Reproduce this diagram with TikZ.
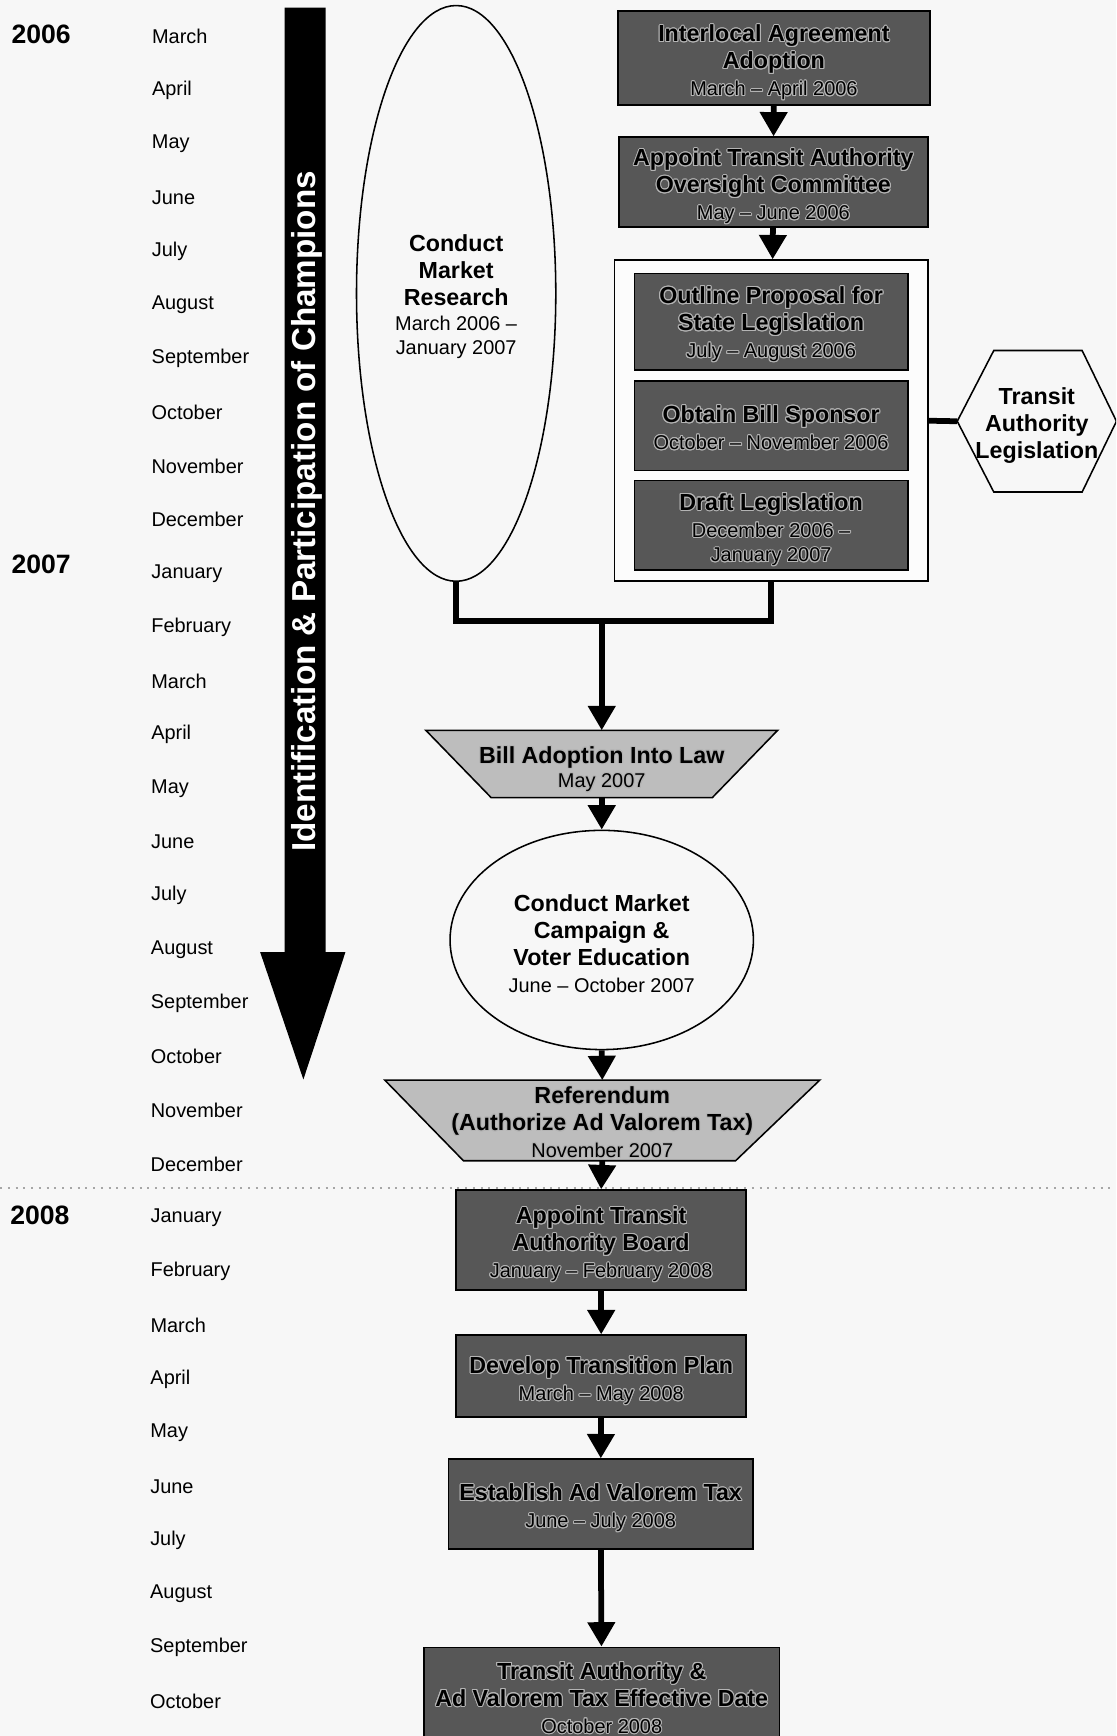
\documentclass[tikz,border=0pt]{standalone}
\usepackage{fontspec}
\setmainfont{Liberation Sans}
\usepackage{contour}
\contourlength{0.45pt}
\usetikzlibrary{arrows.meta,shapes.geometric}
\definecolor{bg}{HTML}{F7F7F7}
\definecolor{boxgray}{HTML}{575757}
\definecolor{trapgray}{HTML}{BDBDBD}
\definecolor{halo}{HTML}{B4B4B4}
\pgfdeclarelayer{back}
\pgfsetlayers{back,main}
\newcommand{\tb}[1]{\contour{halo}{\fontsize{10.5}{12.2}\selectfont\bfseries #1}}
\newcommand{\td}[1]{\contour{halo}{#1}}
\newcommand{\bb}[1]{{\fontsize{10.5}{12.2}\selectfont\bfseries #1}}
\newcommand{\lift}[1]{\rule{0pt}{#1}}
\tikzset{
  month/.style={anchor=west, inner sep=0pt, font=\fontsize{9}{11}\selectfont},
  yearlab/.style={anchor=west, inner sep=0pt, font=\fontsize{12}{14}\selectfont\bfseries},
  darkbox/.style={draw=black, line width=0.8pt, fill=boxgray, align=center,
    inner sep=0pt, font=\fontsize{9}{12.2}\selectfont},
  whiteshape/.style={draw=black, line width=0.7pt, fill=bg, align=center,
    inner sep=0pt, font=\fontsize{9}{12.2}\selectfont},
  holder/.style={inner sep=0pt, align=center, font=\fontsize{9}{12.2}\selectfont},
  conn/.style={line width=2.6pt, line join=miter},
  arr/.style={line width=2.6pt, -{Triangle[width=12pt,length=11pt]}},
  trapfill/.style={draw=black, line width=0.7pt, fill=trapgray},
  gridline/.style={draw=black!35, line width=0.6pt, dash pattern=on 1pt off 2.5pt}
}
\begin{document}
\begin{tikzpicture}[x=0.5pt,y=-0.5pt]
\useasboundingbox (0,0) rectangle (1008,1568);
\begin{pgfonlayer}{back}
\fill[bg] (0,0) rectangle (1008,1568);
\end{pgfonlayer}
\clip (0,0) rectangle (1008,1568);

% dotted separator 2007/2008
\draw[gridline] (0,1073) -- (1008,1073);

% years
\node[yearlab] (y2006) at (10,31) {2006};
\node[yearlab] (y2007) at (10,510) {2007};
\node[yearlab] (y2008) at (9,1098) {2008};

% months
\foreach \m [count=\i from 0] in {March,April,May,June,July,August,September,October,November,December,January,February,March,April,May,June,July,August,September,October,November,December,January,February,March,April,May,June,July,August,September,October}
  \node[month] (m\i) at ({137-0.06*\i},{33+48.5*\i}) {\m};

% big black arrow
\fill[black] (257,7) -- (294,7) -- (294,860) -- (312,860) -- (274,975) -- (235,860) -- (257,860) -- cycle;
\node[rotate=90, text=white, inner sep=0pt] (champ) at (277,462)
  {\resizebox{307.5pt}{!}{\bfseries Identification \& Participation of Champions}};

% ellipse 1
\node[whiteshape, ellipse, minimum width=90pt, minimum height=260pt] (ell1) at (412,265)
  {\lift{10.7pt}\bb{Conduct}\\ \bb{Market}\\ \bb{Research}\\[-1pt] March 2006 --\\[-1pt] January 2007};

% right column
\node[darkbox, minimum width=141pt, minimum height=42.5pt] (b1) at (699,52.5)
  {\lift{12pt}\tb{Interlocal Agreement}\\ \tb{Adoption}\\ \td{March -- April 2006}};
\node[darkbox, minimum width=139.5pt, minimum height=40.5pt] (b2) at (698.5,164.5)
  {\lift{12pt}\tb{Appoint Transit Authority}\\ \tb{Oversight Committee}\\ \td{May -- June 2006}};
\node[draw=black, line width=0.8pt, fill=white!60!bg, minimum width=141.5pt, minimum height=145pt, inner sep=0pt] (cont) at (696.5,380) {};
\node[darkbox, minimum width=123.5pt, minimum height=43.5pt] (b3) at (696.5,290.5)
  {\lift{10.5pt}\tb{Outline Proposal for}\\ \tb{State Legislation}\\ \td{July -- August 2006}};
\node[darkbox, minimum width=123.5pt, minimum height=40.5pt] (b4) at (696.5,384.5)
  {\lift{10pt}\tb{Obtain Bill Sponsor}\\ \td{October -- November 2006}};
\node[darkbox, minimum width=123.5pt, minimum height=40.5pt] (b5) at (696.5,474.5)
  {\lift{12pt}\tb{Draft Legislation}\\ \td{December 2006 --}\\[-1pt] \td{January 2007}};

% hexagon
\node[holder, minimum width=71.5pt, minimum height=63.5pt] (hex) at (936.5,380.5)
  {\lift{11.5pt}\bb{Transit}\\ \bb{Authority}\\ \bb{Legislation}};
\draw[line width=0.7pt] (hex.west) -- ([xshift=16.5pt]hex.north west) -- ([xshift=-15.5pt]hex.north east)
  -- (hex.east) -- ([xshift=-15.5pt]hex.south east) -- ([xshift=16.5pt]hex.south west) -- cycle;

% central column
\node[holder, minimum width=158.5pt, minimum height=30pt] (t1) at (543.5,690)
  {\lift{12.7pt}\tb{Bill Adoption Into Law}\\[-1pt] \td{May 2007}};
\begin{pgfonlayer}{back}
\path[trapfill] (t1.north west) -- (t1.north east) -- ([xshift=-29.5pt]t1.south east) -- ([xshift=29.5pt]t1.south west) -- cycle;
\end{pgfonlayer}

\node[whiteshape, ellipse, minimum width=137pt, minimum height=99pt] (ell2) at (543.5,849)
  {\lift{10.7pt}\bb{Conduct Market}\\ \bb{Campaign \&}\\ \bb{Voter Education}\\ June -- October 2007};

\node[holder, minimum width=196pt, minimum height=36pt] (t2) at (544,1012)
  {\lift{9.7pt}\tb{Referendum}\\ \tb{(Authorize Ad Valorem Tax)}\\ \td{November 2007}};
\begin{pgfonlayer}{back}
\path[trapfill] (t2.north west) -- (t2.north east) -- ([xshift=-38pt]t2.south east) -- ([xshift=35.5pt]t2.south west) -- cycle;
\end{pgfonlayer}

\node[darkbox, minimum width=131pt, minimum height=45pt] (b6) at (543,1120)
  {\lift{12pt}\tb{Appoint Transit}\\ \tb{Authority Board}\\ \td{January -- February 2008}};
\node[darkbox, minimum width=131pt, minimum height=37pt] (b7) at (543,1243)
  {\lift{12pt}\tb{Develop Transition Plan}\\ \td{March -- May 2008}};
\node[darkbox, minimum width=137.5pt, minimum height=40.5pt] (b8) at (542.5,1358.5)
  {\lift{11.5pt}\tb{Establish Ad Valorem Tax}\\ \td{June -- July 2008}};
\node[darkbox, minimum width=160.5pt, minimum height=46pt] (b9) at (543.5,1534)
  {\tb{Transit Authority \&}\\ \tb{Ad Valorem Tax Effective Date}\\ \td{October 2008}};

% connectors
\draw[arr] (b1) -- (b2);
\draw[arr] (b2) -- (cont);
\draw[conn] (cont.east) -- (hex.west);
\coordinate (j) at (543.5,561);
\draw[conn] (ell1.south) |- (j) -| (cont.south);
\draw[arr] (j) -- (t1.north);
\draw[arr] (t1.south) -- (ell2.north);
\draw[arr] (ell2.south) -- (t2.north);
\draw[arr] (t2.south) -- (b6.north);
\draw[arr] (b6) -- (b7);
\draw[arr] (b7) -- (b8);
\draw[arr] (b8) -- (b9);
\end{tikzpicture}
\end{document}
